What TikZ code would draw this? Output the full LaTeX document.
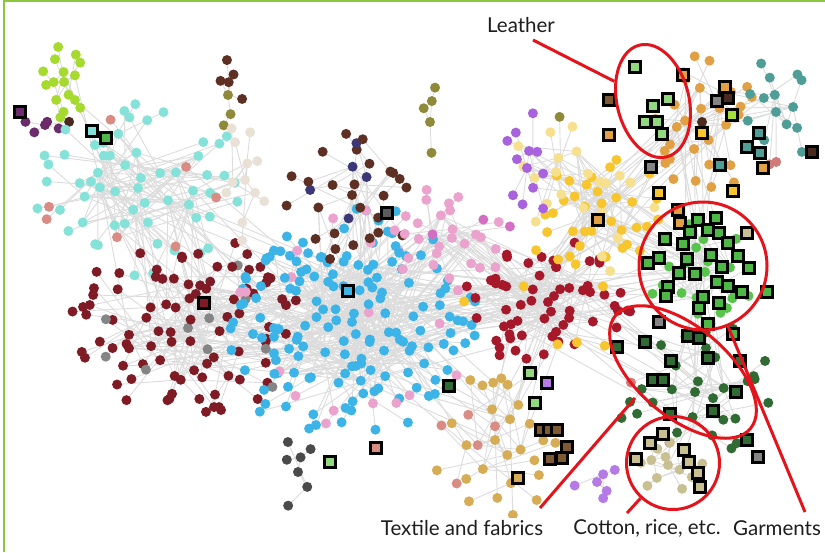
\documentclass[tikz,border=0pt]{standalone}
\usepackage{fontspec}
\setmainfont{Lato}
\usetikzlibrary{shapes.geometric}

\definecolor{cLime}{HTML}{A6DA2E}
\definecolor{cPlum}{HTML}{6C2B6A}
\definecolor{cBrownDk}{HTML}{4A2A20}
\definecolor{cTurq}{HTML}{84E2D8}
\definecolor{cSalmon}{HTML}{D98C84}
\definecolor{cMaroon}{HTML}{7E1B25}
\definecolor{cGold}{HTML}{F7C62F}
\definecolor{cSky}{HTML}{3CB4E7}
\definecolor{cPink}{HTML}{EBA2CC}
\definecolor{cMagenta}{HTML}{D46EC2}
\definecolor{cBrown}{HTML}{5E3024}
\definecolor{cNavy}{HTML}{3C3878}
\definecolor{cOlive}{HTML}{8E8A3A}
\definecolor{cBeige}{HTML}{E9E1D6}
\definecolor{cCrimson}{HTML}{A6192B}
\definecolor{cCream}{HTML}{F6E08E}
\definecolor{cAmber}{HTML}{E0A043}
\definecolor{cTeal}{HTML}{4E9D97}
\definecolor{cRose}{HTML}{D07A7A}
\definecolor{cLeaf}{HTML}{58C44C}
\definecolor{cForest}{HTML}{2F6B33}
\definecolor{cKhaki}{HTML}{C9C092}
\definecolor{cTan}{HTML}{D6AC55}
\definecolor{cViolet}{HTML}{A862DD}
\definecolor{cSlate}{HTML}{4A4A4A}
\definecolor{cGray}{HTML}{858585}
\definecolor{cLilac}{HTML}{B57AE6}
\definecolor{cMint}{HTML}{92D87E}
\definecolor{cGreen}{HTML}{4DB846}
\definecolor{cLimeSq}{HTML}{A4E03C}
\definecolor{cGrayDk}{HTML}{5C5C5C}
\definecolor{cBrownMd}{HTML}{7E5A32}
\definecolor{cLink}{HTML}{DCDCDC}
\definecolor{cRing}{HTML}{E3141B}
\definecolor{cFrame}{HTML}{8CC63F}
\definecolor{cInk}{HTML}{1E1E1E}

\tikzset{
  dot/.style={circle,inner sep=0pt,minimum size=10pt},
  sq/.style={rectangle,draw=black,line width=2.4pt,inner sep=0pt,minimum size=11pt},
  link/.style={draw=cLink,line width=0.9pt},
  ring/.style={draw=cRing,line width=3pt,inner sep=0pt},
  lbl/.style={font=\fontsize{20.5}{24}\selectfont,text=cInk,fill=white,inner sep=2pt}
}

\def\clusters{
    lime/64/82/24/40/16/cLime/cLime,
    plum/45/125/28/8/6/cPlum/cBrownDk,
    turq/138/188/105/88/65/cTurq/cSalmon,
    maroon/188/328/115/92/100/cMaroon/cGray,
    sky/352/322/128/112/180/cSky/cPink,
    brown/352/195/68/62/32/cBrown/cNavy,
    brownb/228/95/15/35/8/cBrown/cOlive,
    beige/245/180/25/58/12/cBeige/cBeige,
    pink/452/238/58/48/28/cPink/cMagenta,
    crimson/548/302/88/58/70/cCrimson/cGold,
    gold/602/212/62/55/40/cGold/cCream,
    cream/556/172/45/58/15/cCream/cOlive,
    amber/702/122/55/72/32/cAmber/cBrownDk,
    teal/776/112/36/62/16/cTeal/cRose,
    leaf/705/272/55/50/22/cLeaf/cLeaf,
    forest/695/392/82/66/32/cForest/cRose,
    khaki/668/465/35/28/14/cKhaki/cAmber,
    tan/495/440/62/78/32/cTan/cSalmon,
    violet/527/168/22/58/12/cViolet/cOlive,
    slate/298/472/18/42/7/cSlate/cSlate,
    lilac/597/482/30/18/6/cLilac/cLilac,
    olive/430/122/8/42/5/cOlive/cNavy}

\begin{document}
\begin{tikzpicture}[x=1pt,y=-1pt]
\useasboundingbox (0,0) rectangle (825,552);
\pgfmathsetseed{11}

\foreach \nm/\cx/\cy/\rx/\ry/\n/\col/\altc in \clusters
  \foreach \k in {1,...,\n} {
    \pgfmathsetmacro\rr{sqrt((\k-1)/(\n-1))*(0.9+0.2*rnd)}
    \pgfmathsetmacro\ang{360*(0.381966*\k-floor(0.381966*\k))+30*rand}
    \coordinate (\nm\k) at ({\cx+\rx*\rr*cos(\ang)},{\cy+\ry*\rr*sin(\ang)});
    \ifnum\k>1
      \pgfmathtruncatemacro\hi{max(1,\k/2)}
      \pgfmathrandominteger{\pa}{1}{\hi}
      \draw[link] (\nm\k) -- (\nm\pa);
    \fi
  }

\foreach \a/\na/\b/\nb/\m in {
    sky/180/maroon/100/45, sky/180/crimson/70/45, sky/180/pink/28/25,
    sky/180/brown/32/12, sky/180/turq/65/10, maroon/100/turq/65/20,
    crimson/70/gold/40/25, crimson/70/pink/28/20, crimson/70/leaf/22/12,
    crimson/70/forest/32/12, gold/40/amber/32/15, gold/40/leaf/22/15,
    gold/40/cream/15/12, gold/40/violet/12/8, leaf/22/forest/32/10,
    leaf/22/amber/32/10, amber/32/teal/16/8, sky/180/tan/32/12,
    crimson/70/tan/32/10, turq/65/beige/12/6, lime/16/turq/65/4,
    forest/32/khaki/14/6}
  \foreach \j in {1,...,\m} {
    \pgfmathtruncatemacro\ta{max(1,\na/3)}
    \pgfmathtruncatemacro\tb{max(1,\nb/3)}
    \pgfmathrandominteger{\pa}{1}{\ta}
    \pgfmathrandominteger{\pb}{1}{\tb}
    \draw[link] (\a\pa) -- (\b\pb);
  }

\foreach \a/\na/\m in {sky/180/60, maroon/100/30, turq/65/30, crimson/70/30,
    gold/40/15, leaf/22/15, amber/32/10, forest/32/10}
  \foreach \j in {1,...,\m} {
    \pgfmathtruncatemacro\ta{\na/4}
    \pgfmathtruncatemacro\tb{2*\ta}
    \pgfmathrandominteger{\pa}{1}{\ta}
    \pgfmathrandominteger{\pb}{\ta+1}{\tb}
    \draw[link] (\a\pa) -- (\a\pb);
  }

\foreach \nm/\cx/\cy/\rx/\ry/\n/\col/\altc in \clusters
  \foreach \k in {1,...,\n} {
    \pgfmathparse{rnd<0.12 ? "\altc" : "\col"}
    \edef\dotcol{\pgfmathresult}
    \node[dot,fill=\dotcol] (d\nm\k) at (\nm\k) {};
  }

\foreach \sx/\sy/\sc [count=\i] in {
    20/112/cPlum, 92/131/cTurq, 106/138/cGreen, 204/303/cMaroon,
    348/291/cSky, 387/213/cGrayDk, 330/462/cMint, 376/448/cSalmon,
    449/386/cForest, 530/373/cMint, 547/383/cLilac, 535/403/cMint,
    541/430/cBrownMd, 549/430/cBrownMd, 557/430/cBrownMd, 567/447/cBrownMd,
    562/458/cBrownMd, 550/459/cBrownMd, 518/478/cTan, 598/220/cAmber,
    617/347/cForest,
    635/67/cMint, 668/99/cMint, 653/106/cMint, 645/122/cMint, 657/122/cMint,
    662/134/cMint, 609/100/cBrownMd, 609/135/cAmber, 683/75/cAmber,
    725/87/cAmber, 717/101/cGray, 728/98/cBrownDk, 732/115/cLimeSq,
    702/133/cGold, 759/133/cTeal, 747/147/cTeal, 760/153/cTeal,
    763/168/cAmber, 812/152/cBrownDk, 720/165/cTeal, 651/167/cGray,
    659/193/cGold, 733/191/cGold,
    678/210/cAmber, 680/223/cAmber, 698/220/cGreen, 716/218/cGreen,
    690/232/cGreen, 708/230/cGreen, 719/233/cGreen, 665/239/cGreen,
    683/244/cGreen, 728/243/cGreen, 747/233/cKhaki, 659/258/cGreen,
    648/263/cGreen, 687/259/cGreen, 711/255/cGreen, 738/256/cGreen,
    722/267/cGreen, 749/268/cGreen, 679/273/cGreen, 695/274/cGreen,
    717/282/cGreen, 728/286/cGreen, 742/292/cGreen, 767/292/cGreen,
    668/287/cGreen, 666/296/cGreen, 703/297/cGreen, 719/303/cGreen,
    699/308/cGreen, 708/324/cGreen,
    659/322/cGray, 733/334/cGreen, 688/336/cForest, 699/338/cForest,
    645/342/cForest, 671/361/cForest, 708/358/cForest, 740/361/cForest,
    653/380/cForest, 663/380/cForest, 713/411/cForest, 670/414/cForest,
    736/392/cForest, 747/440/cForest, 758/457/cGray,
    650/443/cKhaki, 663/434/cKhaki, 636/459/cKhaki, 684/450/cKhaki,
    689/462/cKhaki, 698/473/cKhaki, 700/487/cKhaki}
  \node[sq,fill=\sc] (sq\i) at (\sx,\sy) {};

\node[ring,ellipse,minimum width=72pt,minimum height=115pt,rotate=13.5] (lring) at (653,101) {};
\node[ring,circle,minimum size=128pt] (gring) at (703,266) {};
\node[ring,ellipse,minimum width=176pt,minimum height=90pt,rotate=-40] (tring) at (683,372) {};
\node[ring,circle,minimum size=93pt] (cring) at (673,463) {};

\node[lbl] (leather) at (521,25) {Leather};
\node[lbl] (textile) at (462,528) {Textile and fabrics};
\node[lbl] (cotton) at (647,528) {Cotton, rice, etc.};
\node[lbl] (garments) at (777,528) {Garments};

\coordinate (lfoot) at (533,40);
\coordinate (tfoot) at (540,508);
\coordinate (tend) at (635,398);
\coordinate (cfoot) at (627,513);
\coordinate (gfoot) at (805,512);
\draw[ring] (lfoot) -- (lring);
\draw[ring] (tfoot) -- (tend);
\draw[ring] (cring) -- (cfoot);
\draw[ring] (gring) -- (gfoot);

\draw[cFrame,line width=2pt] (4,552) -- (4,1) -- (825,1);

\end{tikzpicture}
\end{document}
